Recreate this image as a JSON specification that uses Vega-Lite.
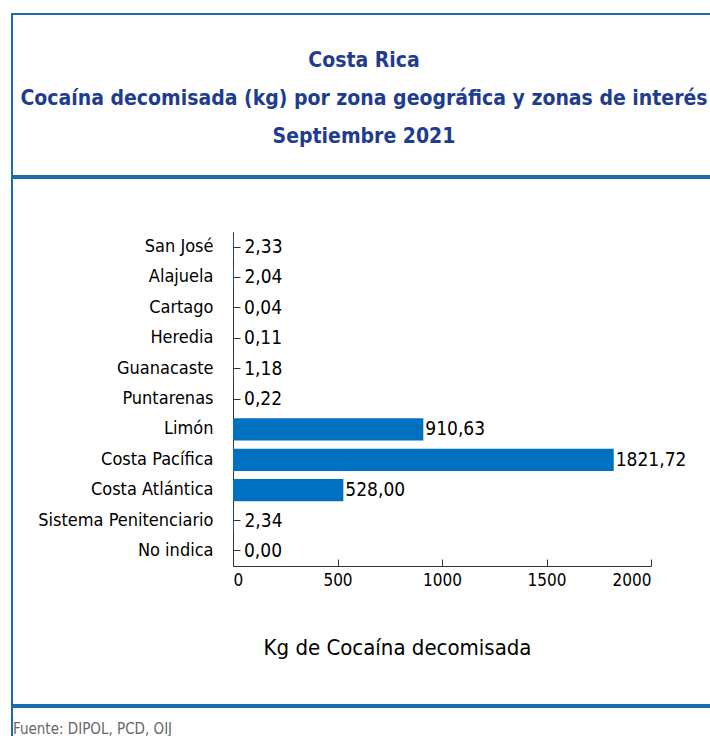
{
  "$schema": "https://vega.github.io/schema/vega-lite/v6.json",
  "padding": {"left": 11, "top": 13, "right": 0, "bottom": 0},
  "spacing": 0,
  "background": "white",
  "config": {
    "view": {"stroke": "#1b6cae", "strokeWidth": 2},
    "font": "DejaVu Sans Condensed",
    "locale": {"number": {"decimal": ",", "thousands": ".", "grouping": [3], "currency": ["", ""]}},
    "concat": {"spacing": 0}
  },
  "vconcat": [
    {
      "width": 700,
      "height": 162,
      "data": {"values": [
        {"line": 1, "texto": "Costa Rica"},
        {"line": 2, "texto": "Cocaína decomisada (kg) por zona geográfica y zonas de interés"},
        {"line": 3, "texto": "Septiembre 2021"}
      ]},
      "mark": {"type": "text", "font": "DejaVu Sans Condensed", "fontWeight": "bold", "fontSize": 21, "color": "#1f3d8f", "baseline": "alphabetic", "align": "center", "dx": 2},
      "encoding": {
        "y": {"field": "line", "type": "ordinal", "axis": null, "scale": {"range": [53, 129], "padding": 0}},
        "text": {"field": "texto"}
      }
    },
    {
      "width": 700,
      "height": 527,
      "data": {"values": [
        {"zona": "San José", "kg": 2.33},
        {"zona": "Alajuela", "kg": 2.04},
        {"zona": "Cartago", "kg": 0.04},
        {"zona": "Heredia", "kg": 0.11},
        {"zona": "Guanacaste", "kg": 1.18},
        {"zona": "Puntarenas", "kg": 0.22},
        {"zona": "Limón", "kg": 910.63},
        {"zona": "Costa Pacífica", "kg": 1821.72},
        {"zona": "Costa Atlántica", "kg": 528.00},
        {"zona": "Sistema Penitenciario", "kg": 2.34},
        {"zona": "No indica", "kg": 0.00}
      ]},
      "encoding": {
        "y": {
          "field": "zona", "type": "nominal", "sort": null,
          "scale": {"range": [54, 388], "paddingInner": 0.27, "paddingOuter": 0.13},
          "axis": {
            "title": null, "orient": "left", "offset": -221,
            "domainColor": "#333333", "domainWidth": 1,
            "tickColor": "#333333", "tickSize": -7, "tickWidth": 1,
            "labelPadding": 27, "labelFontSize": 18, "labelColor": "#000000", "labelLimit": 300,
            "labelFont": "DejaVu Sans Condensed", "zindex": 0
          }
        },
        "x": {
          "field": "kg", "type": "quantitative",
          "scale": {"domain": [0, 2000], "range": [221, 639], "nice": false},
          "axis": {
            "orient": "bottom", "offset": -139, "values": [0, 500, 1000, 1500, 2000], "format": "d",
            "grid": false, "domainColor": "#333333", "tickColor": "#333333", "tickSize": -7,
            "labelPadding": 13, "labelFontSize": 17, "labelColor": "#000000", "labelFont": "DejaVu Sans Condensed",
            "title": "Kg de Cocaína decomisada", "titleFont": "DejaVu Sans Condensed", "titleFontSize": 22,
            "titleFontWeight": "normal", "titleColor": "#000000", "titleX": 385, "titleY": 88, "titleBaseline": "alphabetic",
            "zindex": 0
          }
        }
      },
      "layer": [
        {"mark": {"type": "bar", "color": "#0070c0"}},
        {
          "transform": [{"filter": "datum.kg >= 100"}],
          "mark": {"type": "text", "align": "left", "baseline": "middle", "dx": 2, "fontSize": 19, "color": "#000000", "font": "DejaVu Sans Condensed"},
          "encoding": {"text": {"field": "kg", "type": "quantitative", "format": ".2f"}}
        },
        {
          "transform": [{"filter": "datum.kg < 100"}],
          "mark": {"type": "text", "align": "left", "baseline": "middle", "dx": 11, "fontSize": 19, "color": "#000000", "font": "DejaVu Sans Condensed"},
          "encoding": {"text": {"field": "kg", "type": "quantitative", "format": ".2f"}}
        }
      ]
    },
    {
      "width": 700,
      "height": 33,
      "data": {"values": [{"fuente": "Fuente: DIPOL, PCD, OIJ"}]},
      "mark": {"type": "text", "align": "left", "baseline": "alphabetic", "dy": 10, "dx": 1, "fontSize": 15, "color": "#666666", "font": "DejaVu Sans Condensed"},
      "encoding": {
        "x": {"datum": 0, "type": "quantitative", "scale": {"domain": [0, 1]}, "axis": null},
        "text": {"field": "fuente"}
      }
    }
  ]
}
